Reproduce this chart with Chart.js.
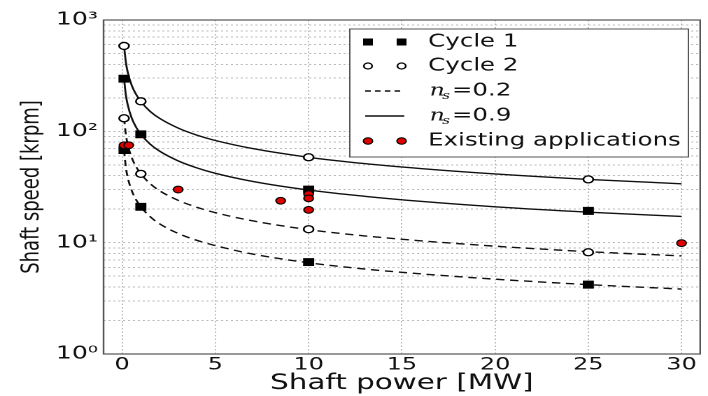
<!DOCTYPE html>
<html>
<head>
<meta charset="utf-8">
<script src="https://cdn.jsdelivr.net/npm/chart.js@4"></script>
<style>
  html, body { margin: 0; padding: 0; background: #fff; overflow: hidden; }
  /* the reference picture is stretched sideways, so draw narrow and scale it */
  #wrap { width: 506px; height: 396px; transform: scaleX(1.3992); transform-origin: 0 0; }
</style>
</head>
<body>
<div id="wrap"><canvas id="chart" width="506" height="396"></canvas></div>
<script>
// --- data ---
const powerMW = [0.1, 0.2, 0.3, 0.5, 0.75, 1, 1.5, 2, 3, 4, 5, 7, 10, 13, 16, 20, 25, 30];
const cycle2Ns09 = [585, 414, 338, 262, 214, 185, 151, 131, 107, 92.5, 82.7, 70, 58.5, 51.3, 46.3, 41.4, 37, 33.8];
const cycle1Ns09 = [297, 210, 172, 133, 108.5, 94, 76.7, 66.5, 54.3, 47, 42, 35.5, 29.7, 26.1, 23.5, 21, 18.8, 17.2];
const cycle2Ns02 = [131, 92.8, 75.8, 58.7, 47.9, 41.5, 33.9, 29.3, 24, 20.8, 18.6, 15.7, 13.1, 11.5, 10.4, 9.3, 8.3, 7.6];
const cycle1Ns02 = [68, 47, 38.3, 29.7, 24.2, 21, 17.1, 14.8, 12.1, 10.5, 9.4, 7.9, 6.6, 5.8, 5.25, 4.7, 4.2, 3.83];

const cycle1PointPower = [0.1, 1, 10, 25, 0.1, 1, 10, 25];
const cycle1Points = [297, 94, 30, 19.3, 68, 21, 6.7, 4.2];
const cycle2PointPower = [0.1, 1, 10, 25, 0.1, 1, 10, 25];
const cycle2Points = [585, 186, 58.5, 37, 131, 41.5, 13.2, 8.2];

const existingPower = [0.1, 0.35, 3, 8.5, 10, 10, 10, 30];
const existingSpeed = [75, 75, 30, 23.8, 27.3, 25, 19.7, 9.9];

const xTicks = [0, 5, 10, 15, 20, 25, 30];
const yGrid = [1, 2, 3, 4, 5, 6, 7, 8, 9, 10, 20, 30, 40, 50, 60, 70, 80, 90,
               100, 200, 300, 400, 500, 600, 700, 800, 900, 1000];
const yTickLabels = { 1: '10\u2070', 10: '10\u00b9', 100: '10\u00b2', 1000: '10\u00b3' };

const FONT = "'DejaVu Sans', sans-serif";

function pts(xs, ys) {
  return xs.map((x, i) => ({ x: x, y: ys[i] }));
}

function curve(ys, dashed) {
  return {
    data: pts(powerMW, ys),
    showLine: true,
    pointRadius: 0,
    borderColor: '#111',
    borderWidth: 1.4,
    borderDash: dashed ? [6, 4] : [],
    cubicInterpolationMode: 'monotone',
    order: 3
  };
}

// frame around the plot
const framePlugin = {
  id: 'frame',
  afterDatasetsDraw(chart) {
    const a = chart.chartArea, ctx = chart.ctx;
    ctx.save();
    ctx.strokeStyle = '#555';
    ctx.lineWidth = 1.2;
    ctx.strokeRect(a.left, a.top, a.right - a.left, a.bottom - a.top);
    ctx.restore();
  }
};

// legend box drawn inside the plot, matplotlib style (two markers per row)
const legendPlugin = {
  id: 'boxLegend',
  afterDraw(chart) {
    const ctx = chart.ctx;
    const bx = 250, by = 29, bw = 242, bh = 128;
    const rows = [42, 66, 91, 116, 141];
    const m1 = 263, m2 = 287, tx = 306;
    ctx.save();
    ctx.fillStyle = '#fff';
    ctx.fillRect(bx, by, bw, bh);
    ctx.strokeStyle = '#555';
    ctx.lineWidth = 1;
    ctx.strokeRect(bx, by, bw, bh);

    // Cycle 1
    ctx.fillStyle = '#000';
    [m1, m2].forEach(x => ctx.fillRect(x - 3.5, rows[0] - 3.5, 7, 7));
    // Cycle 2
    ctx.strokeStyle = '#000';
    ctx.lineWidth = 1.2;
    [m1, m2].forEach(x => { ctx.beginPath(); ctx.arc(x, rows[1], 3, 0, Math.PI * 2); ctx.fillStyle = '#fff'; ctx.fill(); ctx.stroke(); });
    // dashed line
    ctx.lineWidth = 1.4;
    ctx.strokeStyle = '#111';
    ctx.setLineDash([4, 3]);
    ctx.beginPath(); ctx.moveTo(m1 - 2, rows[2]); ctx.lineTo(m2 + 2, rows[2]); ctx.stroke();
    ctx.setLineDash([]);
    ctx.beginPath(); ctx.moveTo(m1 - 2, rows[3]); ctx.lineTo(m2 + 2, rows[3]); ctx.stroke();
    // existing applications
    ctx.lineWidth = 1;
    [m1, m2].forEach(x => { ctx.beginPath(); ctx.arc(x, rows[4], 3.3, 0, Math.PI * 2); ctx.fillStyle = '#e00000'; ctx.fill(); ctx.strokeStyle = '#000'; ctx.stroke(); });

    ctx.fillStyle = '#111';
    ctx.textBaseline = 'middle';
    ctx.font = '17.5px ' + FONT;
    ctx.fillText('Cycle 1', tx, rows[0]);
    ctx.fillText('Cycle 2', tx, rows[1]);
    ctx.fillText('Existing applications', tx, rows[4]);
    [[rows[2], '=0.2'], [rows[3], '=0.9']].forEach(([y, txt]) => {
      ctx.font = "italic 17px 'DejaVu Serif', serif";
      ctx.fillText('n', tx + 1, y);
      ctx.font = "italic 11px 'DejaVu Serif', serif";
      ctx.fillText('s', tx + 10, y + 5);
      ctx.font = '17.5px ' + FONT;
      ctx.fillText(txt, tx + 17, y);
    });
    ctx.restore();
  }
};

new Chart(document.getElementById('chart'), {
  type: 'scatter',
  data: {
    datasets: [
      curve(cycle2Ns09, false),
      curve(cycle1Ns09, false),
      curve(cycle2Ns02, true),
      curve(cycle1Ns02, true),
      {
        data: pts(cycle1PointPower, cycle1Points),
        pointStyle: 'rect',
        pointRadius: 5.6,
        backgroundColor: '#000',
        borderColor: '#000',
        borderWidth: 0,
        order: 2
      },
      {
        data: pts(cycle2PointPower, cycle2Points),
        pointStyle: 'circle',
        pointRadius: 3.5,
        backgroundColor: '#fff',
        borderColor: '#000',
        borderWidth: 1.3,
        order: 2
      },
      {
        data: pts(existingPower, existingSpeed),
        pointStyle: 'circle',
        pointRadius: 3.4,
        backgroundColor: '#e00000',
        borderColor: '#000',
        borderWidth: 1,
        order: 1
      }
    ]
  },
  options: {
    responsive: false,
    animation: false,
    devicePixelRatio: 2,
    layout: { padding: { top: 20, right: 5, left: 0, bottom: 0 } },
    plugins: { legend: { display: false }, tooltip: { enabled: false } },
    scales: {
      x: {
        type: 'linear',
        min: -1,
        max: 31,
        afterBuildTicks: scale => { scale.ticks = xTicks.map(v => ({ value: v })); },
        afterFit: scale => { scale.height = 42; },
        grid: { color: '#bbb', lineWidth: 1, drawTicks: false },
        border: { display: false, dash: [1.5, 2] },
        ticks: { color: '#111', font: { family: FONT, size: 17 }, padding: 1, maxRotation: 0 },
        title: { display: true, text: 'Shaft power [MW]', color: '#111', font: { family: FONT, size: 21 }, padding: { top: 0, bottom: 0 } }
      },
      y: {
        type: 'logarithmic',
        min: 1,
        max: 1000,
        afterBuildTicks: scale => { scale.ticks = yGrid.map(v => ({ value: v })); },
        afterFit: scale => { scale.width = 74; },
        grid: { color: '#bbb', lineWidth: 1, drawTicks: false },
        border: { display: false, dash: [1.5, 2] },
        ticks: {
          color: '#111',
          autoSkip: false,
          padding: 4,
          font: { family: FONT, size: 18 },
          callback: v => yTickLabels[v] || ''
        },
        title: { display: true, text: 'Shaft speed [krpm]', color: '#111', font: { family: FONT, size: 18 }, padding: { top: 12, bottom: 0 } }
      }
    }
  },
  plugins: [framePlugin, legendPlugin]
});
</script>
</body>
</html>
